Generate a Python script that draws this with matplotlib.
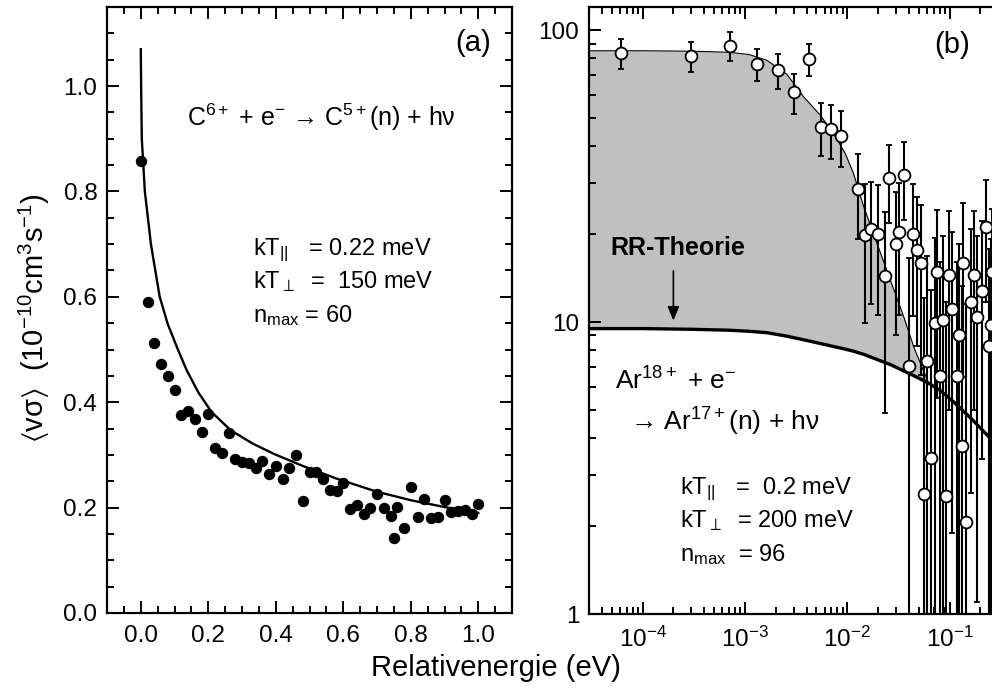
import numpy as np
import matplotlib.pyplot as plt
from matplotlib.ticker import MultipleLocator, LogLocator, NullFormatter

plt.rcParams['font.family'] = ['Liberation Sans', 'DejaVu Sans']
plt.rcParams['mathtext.fontset'] = 'custom'
plt.rcParams['mathtext.rm'] = 'Liberation Sans'
plt.rcParams['mathtext.it'] = 'Liberation Sans:italic'
plt.rcParams['mathtext.bf'] = 'Liberation Sans:bold'
plt.rcParams['mathtext.default'] = 'regular'

# --- (a) C6+ : Messpunkte und Theorie ---
e_c = [0.00, 0.02, 0.04, 0.06, 0.08, 0.10, 0.12, 0.14, 0.16, 0.18,
       0.20, 0.22, 0.24, 0.26, 0.28, 0.30, 0.32, 0.34, 0.36, 0.38,
       0.40, 0.42, 0.44, 0.46, 0.48, 0.50, 0.52, 0.54, 0.56, 0.58,
       0.60, 0.62, 0.64, 0.66, 0.68, 0.70, 0.72, 0.74, 0.75, 0.76,
       0.78, 0.80, 0.82, 0.84, 0.86, 0.88, 0.90, 0.92, 0.94, 0.96,
       0.98, 1.00]
rate_c = [0.857, 0.591, 0.513, 0.473, 0.450, 0.424, 0.376, 0.384, 0.369, 0.344,
          0.378, 0.314, 0.304, 0.342, 0.293, 0.287, 0.285, 0.276, 0.289, 0.264,
          0.279, 0.255, 0.276, 0.300, 0.213, 0.268, 0.268, 0.255, 0.234, 0.232,
          0.247, 0.198, 0.205, 0.188, 0.200, 0.226, 0.200, 0.184, 0.143, 0.201,
          0.161, 0.240, 0.183, 0.217, 0.181, 0.183, 0.215, 0.192, 0.194, 0.196,
          0.188, 0.207]

e_theo_c = [0.0, 0.001, 0.003, 0.012, 0.03, 0.056, 0.08, 0.108, 0.135, 0.171,
            0.21, 0.266, 0.33, 0.394, 0.48, 0.58, 0.70, 0.80, 0.90, 1.00]
rate_theo_c = [1.07, 1.0, 0.9, 0.8, 0.7, 0.6, 0.548, 0.503, 0.462, 0.418,
               0.381, 0.347, 0.322, 0.302, 0.279, 0.255, 0.230, 0.214, 0.201, 0.190]

# --- (b) Ar18+ : Messpunkte mit Fehlerbalken ---
e_ar = [6.2e-5, 3.0e-4, 7.2e-4, 1.31e-3, 2.09e-3, 3.0e-3, 4.25e-3, 5.56e-3, 6.9e-3, 8.7e-3,
        1.27e-2, 1.5e-2, 1.71e-2, 2.0e-2, 2.34e-2, 2.57e-2, 2.97e-2, 3.23e-2, 3.6e-2, 3.99e-2,
        4.37e-2, 4.78e-2, 5.25e-2, 5.65e-2, 6.02e-2, 6.6e-2, 7.2e-2, 7.47e-2, 8.0e-2, 8.7e-2,
        9.3e-2, 9.8e-2, 0.105, 0.117, 0.124, 0.131, 0.136, 0.146, 0.161, 0.173,
        0.183, 0.205, 0.225, 0.243, 0.255, 0.262]
rate_ar = [83.6, 81.5, 88.4, 76.7, 73.0, 61.4, 79.6, 46.7, 45.9, 43.4,
           28.5, 19.8, 20.9, 20.1, 14.4, 31.1, 18.5, 20.3, 31.9, 7.06,
           20.1, 17.6, 15.9, 2.58, 7.34, 3.43, 9.9, 14.9, 6.53, 10.2,
           2.54, 14.5, 11.1, 6.53, 9.0, 3.77, 16.0, 2.07, 11.7, 14.5,
           10.4, 12.8, 21.2, 8.3, 9.8, 14.9]
err_ar = [9.7, 9.7, 10.2, 9.6, 9.9, 9.6, 10.2, 9.6, 9.6, 9.4,
          9.3, 9.9, 9.4, 9.5, 9.5, 9.2, 9.5, 9.7, 9.6, 9.5,
          9.6, 9.3, 9.3, 9.5, 9.5, 9.5, 9.5, 9.4, 9.5, 9.5,
          9.2, 9.5, 9.2, 9.5, 9.5, 9.5, 9.5, 9.5, 9.1, 9.5,
          9.3, 9.4, 9.5, 9.5, 9.5, 9.5]

# Theoriekurven (Fit = obere duenne Linie, RR-Theorie = dicke Linie)
e_theo_ar = [3e-5, 1e-4, 3e-4, 7e-4, 1.1e-3, 1.63e-3, 2.57e-3, 3.73e-3, 5.43e-3, 7.34e-3,
             9.55e-3, 1.15e-2, 1.45e-2, 1.95e-2, 2.64e-2, 3.57e-2, 4.47e-2, 6.1e-2,
             0.08, 0.108, 0.16, 0.26, 0.5, 1.0]
rate_fit_ar = [85, 85, 84.7, 84, 82.5, 78.9, 70.6, 59.2, 51.2, 44.3,
               37.8, 32.3, 24.8, 18.6, 13.9, 10.4, 8.2, 6.3]
rate_rr_ar = [9.5, 9.5, 9.45, 9.38, 9.3, 9.2, 8.95, 8.7, 8.45, 8.25,
              8.08, 7.95, 7.75, 7.45, 7.15, 6.8, 6.55, 6.2,
              5.85, 5.35, 4.7, 3.94, 3.0, 2.25]

fig = plt.figure(figsize=(9.92, 6.98), dpi=100)
ax1 = fig.add_axes([0.1079, 0.1218, 0.4083, 0.8682])
ax2 = fig.add_axes([0.5938, 0.1203, 0.4667, 0.8696])

# ---------- Panel (a) ----------
ax1.plot(e_theo_c, rate_theo_c, color='black', lw=1.7, zorder=2)
ax1.plot(e_c, rate_c, 'o', color='black', ms=7.2, zorder=3)
ax1.set_xlim(-0.1, 1.1)
ax1.set_ylim(0, 1.15)
ax1.xaxis.set_major_locator(MultipleLocator(0.2))
ax1.xaxis.set_minor_locator(MultipleLocator(0.05))
ax1.yaxis.set_major_locator(MultipleLocator(0.2))
ax1.yaxis.set_minor_locator(MultipleLocator(0.05))
ax1.xaxis.set_major_formatter(plt.FormatStrFormatter('%.1f'))
ax1.yaxis.set_major_formatter(plt.FormatStrFormatter('%.1f'))

ax1.text(0.904, 0.941, '(a)', transform=ax1.transAxes, fontsize=21,
         ha='center', va='center')
ax1.text(0.198, 0.804, r'C$^{6+}$ + e$^{-}$ → C$^{5+}$(n) + hν',
         transform=ax1.transAxes, fontsize=18, ha='left', va='baseline')
ax1.text(0.360, 0.591, r'kT$_{||}$   = 0.22 meV', transform=ax1.transAxes,
         fontsize=17, ha='left', va='baseline')
ax1.text(0.360, 0.536, r'kT$_{\perp}$  =  150 meV', transform=ax1.transAxes,
         fontsize=17, ha='left', va='baseline')
ax1.text(0.360, 0.480, r'n$_{\mathrm{max}}$ = 60', transform=ax1.transAxes,
         fontsize=17, ha='left', va='baseline')

# ---------- Panel (b) ----------
n_fit = len(rate_fit_ar)
ax2.fill_between(e_theo_ar[:n_fit], rate_rr_ar[:n_fit], rate_fit_ar,
                 color='#c0c0c0', lw=0, zorder=1)
ax2.plot(e_theo_ar[:n_fit], rate_fit_ar, color='black', lw=0.8, zorder=2)
ax2.plot(e_theo_ar, rate_rr_ar, color='black', lw=2.4, zorder=2)
ax2.errorbar(e_ar, rate_ar, yerr=err_ar, fmt='o', color='black', mfc='white',
             mec='black', mew=1.3, ms=8.5, elinewidth=1.5, capsize=2.4,
             capthick=1.5, zorder=3)
ax2.set_xscale('log')
ax2.set_yscale('log')
ax2.set_xlim(3e-5, 1)
ax2.set_ylim(1, 120)
ax2.set_xticks([1e-4, 1e-3, 1e-2, 1e-1],
               [r'10$^{-4}$', r'10$^{-3}$', r'10$^{-2}$', r'10$^{-1}$'])
ax2.set_yticks([1, 10, 100], ['1', '10', '100'])
ax2.xaxis.set_minor_locator(LogLocator(base=10, subs=np.arange(2, 10), numticks=20))
ax2.yaxis.set_minor_locator(LogLocator(base=10, subs=np.arange(2, 10), numticks=20))
ax2.xaxis.set_minor_formatter(NullFormatter())
ax2.yaxis.set_minor_formatter(NullFormatter())

ax2.text(0.784, 0.937, '(b)', transform=ax2.transAxes, fontsize=21,
         ha='center', va='center')
ax2.text(0.045, 0.591, 'RR-Theorie', transform=ax2.transAxes, fontsize=18,
         fontweight='bold', ha='left', va='baseline')
ax2.annotate('', xy=(2e-4, 9.9), xytext=(2e-4, 15.3),
             arrowprops=dict(arrowstyle='-|>,head_length=0.6,head_width=0.25',
                             color='black', lw=1.2, mutation_scale=14))
ax2.text(0.056, 0.369, r'Ar$^{18+}$ + e$^{-}$', transform=ax2.transAxes,
         fontsize=19, ha='left', va='baseline')
ax2.text(0.089, 0.303, r'→ Ar$^{17+}$(n) + hν', transform=ax2.transAxes,
         fontsize=19, ha='left', va='baseline')
ax2.text(0.1965, 0.198, r'kT$_{||}$   =  0.2 meV', transform=ax2.transAxes,
         fontsize=17, ha='left', va='baseline')
ax2.text(0.1965, 0.143, r'kT$_{\perp}$  = 200 meV', transform=ax2.transAxes,
         fontsize=17, ha='left', va='baseline')
ax2.text(0.1965, 0.087, r'n$_{\mathrm{max}}$  = 96', transform=ax2.transAxes,
         fontsize=17, ha='left', va='baseline')

for ax in (ax1, ax2):
    for sp in ax.spines.values():
        sp.set_linewidth(1.6)
    ax.tick_params(which='both', direction='in', top=True, right=True,
                   width=1.4, labelsize=17.5)
    ax.tick_params(which='major', length=8.5)
    ax.tick_params(which='minor', length=5)
    ax.tick_params(axis='x', which='major', pad=9)
    ax.tick_params(axis='y', which='major', pad=7)

fig.text(0.5, 0.043, 'Relativenergie (eV)', fontsize=21, ha='center', va='center')
fig.text(0.035, 0.544, r'$\langle$vσ$\rangle$  (10$^{-10}$cm$^{3}$s$^{-1}$)',
         fontsize=21, rotation=90, ha='center', va='center')

fig.savefig('out.png', dpi=100)
